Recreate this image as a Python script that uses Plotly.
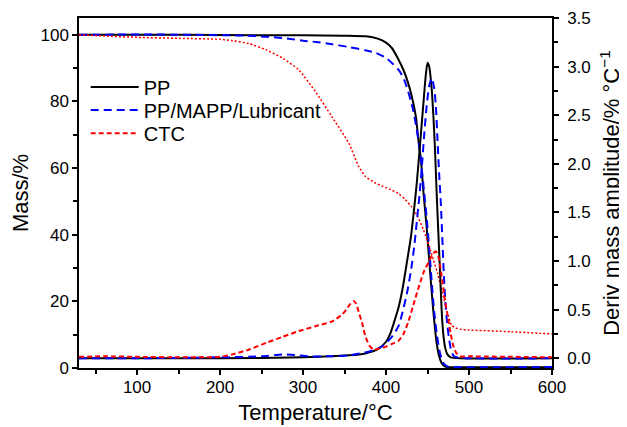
import plotly.graph_objects as go

# ---------------- data ----------------
# TG curves: mass / %
pp_tg_T = [30, 100, 200, 300, 350, 376, 390, 400, 407, 414, 421, 426, 430, 436, 439, 442,
           445, 449, 454, 457, 461, 464, 467, 470, 473, 480, 600]
pp_tg_M = [100, 100, 99.9, 99.8, 99.7, 99.5, 98.8, 97.6, 96.0, 93.0, 89.4, 86.0, 82.5, 75.3,
           68.4, 62.5, 53.0, 42.0, 26.0, 17.0, 7.5, 3.5, 1.5, 0.6, 0.3, 0.2, 0.2]

mapp_tg_T = [30, 150, 230, 255, 275, 300, 316, 335, 355, 375, 388, 400, 407, 415, 421, 426,
             430, 433, 437, 441, 445, 449, 452, 455, 458, 461, 465, 469, 474, 480, 600]
mapp_tg_M = [100, 100, 99.7, 99.4, 99.0, 98.2, 97.8, 97.1, 96.3, 95.3, 94.5, 93.0, 91.5,
             89.5, 87.0, 83.5, 80.0, 77.0, 71.5, 64.5, 55.0, 45.0, 36.0, 26.0, 17.0, 10.5,
             4.5, 1.5, 0.5, 0.3, 0.3]

ctc_tg_T = [30, 60, 100, 150, 200, 215, 235, 255, 275, 295, 316, 335, 355, 367, 375, 385,
            395, 405, 415, 423, 431, 438, 445, 452, 457, 462, 466, 470, 474, 479, 484, 490,
            500, 550, 600]
ctc_tg_M = [100, 99.6, 99.2, 98.9, 98.6, 98.2, 97.3, 95.5, 93.0, 89.4, 82.5, 75.3, 67.5,
            60.5, 57.5, 55.8, 54.6, 53.6, 52.3, 50.6, 48.3, 45.5, 41.5, 36.5, 32.5, 28.5,
            24.5, 20.5, 16.5, 12.8, 12.0, 11.6, 11.4, 10.9, 10.2]

# DTG curves: deriv mass amplitude / % °C^-1
pp_dtg_T = [30, 100, 200, 300, 355, 375, 391, 400, 405, 410, 415, 420, 425, 430, 434, 437,
            441, 445, 448, 450, 452, 455, 457, 459, 461, 463, 465, 467, 469, 471, 474, 478,
            490, 600]
pp_dtg_V = [0.0, 0.0, 0.0, 0.01, 0.03, 0.05, 0.1, 0.17, 0.25, 0.38, 0.52, 0.72, 0.98, 1.25,
            1.55, 1.8, 2.2, 2.62, 2.92, 3.04, 3.0, 2.77, 2.5, 2.15, 1.7, 1.3, 0.9, 0.5, 0.25,
            0.12, 0.04, 0.01, 0.0, 0.0]

mapp_dtg_T = [30, 100, 200, 250, 275, 290, 307, 330, 355, 380, 395, 407, 415, 420, 425, 430,
              434, 437, 440, 443, 446, 449, 452, 455, 458, 460, 462, 464, 466, 468, 470, 472,
              474, 476, 478, 481, 485, 600]
mapp_dtg_V = [0.0, 0.0, 0.01, 0.02, 0.04, 0.035, 0.02, 0.02, 0.03, 0.07, 0.12, 0.22, 0.33,
              0.48, 0.66, 0.9, 1.15, 1.4, 1.65, 1.95, 2.3, 2.6, 2.8, 2.88, 2.78, 2.6, 2.25,
              1.9, 1.6, 1.2, 0.8, 0.52, 0.33, 0.2, 0.1, 0.03, 0.01, 0.0]

ctc_dtg_T = [30, 60, 100, 150, 175, 200, 215, 235, 256, 275, 295, 315, 335, 347, 352, 357,
             361, 364, 368, 371, 375, 380, 385, 392, 400, 408, 415, 421, 427, 433, 440, 446,
             452, 456, 460, 463, 467, 471, 474, 478, 481, 485, 490, 500, 600]
ctc_dtg_V = [0.015, 0.02, 0.015, 0.01, 0.01, 0.015, 0.04, 0.09, 0.16, 0.22, 0.28, 0.33, 0.38,
             0.45, 0.5, 0.56, 0.59, 0.56, 0.45, 0.37, 0.23, 0.13, 0.09, 0.1, 0.12, 0.15,
             0.18, 0.25, 0.38, 0.55, 0.75, 0.9, 1.0, 1.07, 1.1, 1.05, 0.85, 0.6, 0.45, 0.25,
             0.13, 0.05, 0.02, 0.02, 0.01]

names = ["PP", "PP/MAPP/Lubricant", "CTC"]

# ---------------- figure ----------------
FONT = "Liberation Sans, Arial, Helvetica, sans-serif"
BLACK, BLUE, RED = "#000000", "#0000ff", "#ff0000"

fig = go.Figure()

# TG (left axis)
fig.add_trace(go.Scatter(x=pp_tg_T, y=pp_tg_M, mode="lines", showlegend=False,
                         line=dict(color=BLACK, width=2, shape="spline", smoothing=0.6)))
fig.add_trace(go.Scatter(x=mapp_tg_T, y=mapp_tg_M, mode="lines", showlegend=False,
                         line=dict(color=BLUE, width=2, dash="8px,5px", shape="spline", smoothing=0.6)))
fig.add_trace(go.Scatter(x=ctc_tg_T, y=ctc_tg_M, mode="lines", showlegend=False,
                         line=dict(color=RED, width=1.5, dash="2px,2px", shape="spline", smoothing=0.6)))

# DTG (right axis) – each in its own single-entry legend for exact placement
fig.add_trace(go.Scatter(x=pp_dtg_T, y=pp_dtg_V, mode="lines", name=names[0], yaxis="y2",
                         legend="legend",
                         line=dict(color=BLACK, width=2, shape="spline", smoothing=0.6)))
fig.add_trace(go.Scatter(x=mapp_dtg_T, y=mapp_dtg_V, mode="lines", name=names[1], yaxis="y2",
                         legend="legend2",
                         line=dict(color=BLUE, width=2, dash="8px,5px", shape="spline", smoothing=0.6)))
fig.add_trace(go.Scatter(x=ctc_dtg_T, y=ctc_dtg_V, mode="lines", name=names[2], yaxis="y2",
                         legend="legend3",
                         line=dict(color=RED, width=2, dash="5px,3px", shape="spline", smoothing=0.6)))

axis_common = dict(showline=True, linecolor="black", linewidth=1.5, ticks="outside",
                   ticklen=5, tickwidth=1.5, tickcolor="black", showgrid=False, zeroline=False,
                   automargin=False,
                   tickfont=dict(family=FONT, size=17, color="black"))

leg_common = dict(xanchor="left", yanchor="middle", bgcolor="rgba(0,0,0,0)",
                  font=dict(family=FONT, size=20, color="black"), itemwidth=48, x=0.0142)

# page body has an 8px margin: figure is 619x419 so that the plot area sits at
# x 79..552, y 18..368 in the 627x427 window
fig.update_layout(
    template="none",
    width=619, height=419,
    margin=dict(l=71, r=75, t=10, b=59, autoexpand=False),
    paper_bgcolor="white", plot_bgcolor="white",
    font=dict(family=FONT, color="black"),
    xaxis=dict(range=[30, 600], tick0=0, dtick=100, mirror=True, ticklabelstandoff=-2,
               minor=dict(dtick=50, ticks="outside", ticklen=4, tickwidth=1.5, tickcolor="black"),
               title=dict(text="Temperature/°C", font=dict(family=FONT, size=22), standoff=8),
               **axis_common),
    yaxis=dict(range=[0, 105], tick0=0, dtick=20,
               minor=dict(dtick=10, ticks="outside", ticklen=4, tickwidth=1.5, tickcolor="black"),
               title=dict(text="Mass/%", font=dict(family=FONT, size=22), standoff=10),
               **axis_common),
    yaxis2=dict(range=[-0.1, 3.5], tick0=0, dtick=0.5, tickformat=".1f", overlaying="y",
                side="right", ticklabelstandoff=5,
                minor=dict(dtick=0.25, ticks="outside", ticklen=4, tickwidth=1.5, tickcolor="black"),
                title=dict(text="Deriv mass amplitude/% °C<sup>−1</sup>",
                           font=dict(family=FONT, size=22), standoff=14),
                **axis_common),
    legend=dict(y=0.803, **leg_common),
    legend2=dict(y=0.737, **leg_common),
    legend3=dict(y=0.671, **leg_common),
)

fig.write_html("out.html")
